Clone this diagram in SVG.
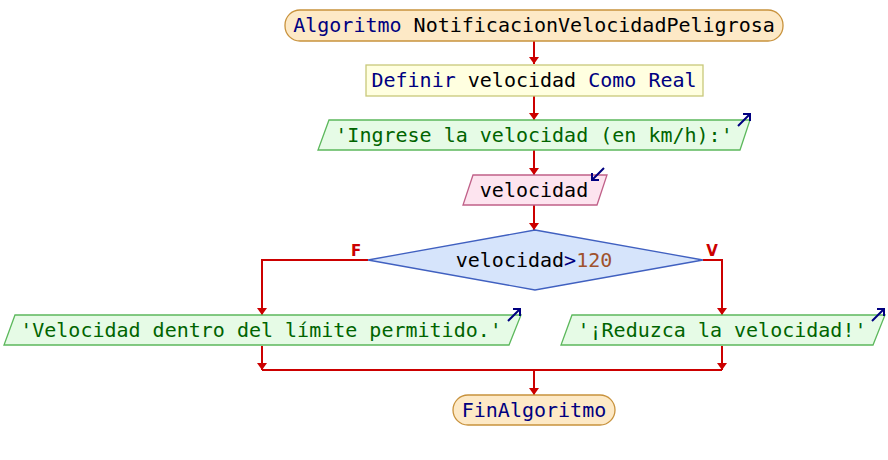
<svg xmlns="http://www.w3.org/2000/svg" width="888" height="460" viewBox="0 0 888 460">
<defs>
<style>
text{font-family:"DejaVu Sans Mono","Liberation Mono",monospace;font-size:20px;text-anchor:middle}
.kw{fill:#000080}.id{fill:#000000}.str{fill:#006400}.num{fill:#a0522d}
.term{fill:#fde9c6;stroke:#c8923c;stroke-width:1.3}
.def{fill:#ffffe0;stroke:#c8c87a;stroke-width:1.3}
.out{fill:#e6fbe6;stroke:#5cb85c;stroke-width:1.3}
.inp{fill:#fde4ef;stroke:#c06088;stroke-width:1.3}
.dec{fill:#d6e4fb;stroke:#4060c0;stroke-width:1.3}
.con{fill:none;stroke:#cc0000;stroke-width:2}
.ico{fill:none;stroke:#000080;stroke-width:2}
.lbl{font-family:"DejaVu Sans",sans-serif;font-size:15px;font-weight:bold;fill:#cc0000}
</style>
<marker id="ah" viewBox="0 0 7 10" refX="7" refY="5" markerWidth="7" markerHeight="10" markerUnits="userSpaceOnUse" orient="auto"><path d="M0,0 L7,5 L0,10 z" fill="#cc0000"/></marker>
</defs>
<g id="connectors">
<line class="con" x1="534" y1="41" x2="534" y2="64" marker-end="url(#ah)"/>
<line class="con" x1="534" y1="96" x2="534" y2="120" marker-end="url(#ah)"/>
<line class="con" x1="534" y1="150" x2="534" y2="175" marker-end="url(#ah)"/>
<line class="con" x1="534" y1="205" x2="534" y2="230" marker-end="url(#ah)"/>
<polyline class="con" points="368,260 262,260 262,315" marker-end="url(#ah)"/>
<polyline class="con" points="703,260 722,260 722,315" marker-end="url(#ah)"/>
<line class="con" x1="262" y1="346" x2="262" y2="370" marker-end="url(#ah)"/>
<line class="con" x1="722" y1="346" x2="722" y2="370" marker-end="url(#ah)"/>
<line class="con" x1="262" y1="370" x2="722" y2="370"/>
<line class="con" x1="534" y1="370" x2="534" y2="395" marker-end="url(#ah)"/>
<text class="lbl" x="356" y="256">F</text>
<text class="lbl" x="712" y="256">V</text>
</g>
<g id="start">
<rect class="term" x="285" y="10" width="498" height="31" rx="15" ry="15"/>
<text x="534" y="32"><tspan class="kw">Algoritmo</tspan><tspan class="id"> NotificacionVelocidadPeligrosa</tspan></text>
</g>
<g id="definir">
<rect class="def" x="366" y="65" width="337" height="31"/>
<text x="534" y="87"><tspan class="kw">Definir</tspan><tspan class="id"> velocidad </tspan><tspan class="kw">Como Real</tspan></text>
</g>
<g id="escribir1">
<polygon class="out" points="329,120 750,120 740,150 318,150"/>
<text class="str" x="534" y="142">'Ingrese la velocidad (en km/h):'</text>
<path class="ico" d="M738,126 L750,114 M743,114 L750,114 L750,121"/>
</g>
<g id="leer">
<polygon class="inp" points="473,175 607,175 597,205 463,205"/>
<text class="id" x="534" y="197">velocidad</text>
<path class="ico" d="M604,168 L592,180 M592,173 L592,180 L599,180"/>
</g>
<g id="si">
<polygon class="dec" points="535,230 703,260 535,290 368,260"/>
<text x="534" y="267"><tspan class="id">velocidad</tspan><tspan class="kw">&gt;</tspan><tspan class="num">120</tspan></text>
</g>
<g id="escribirF">
<polygon class="out" points="15,315 521,315 509,345 4,345"/>
<text class="str" x="261" y="337">'Velocidad dentro del límite permitido.'</text>
<path class="ico" d="M508,321 L520,309 M513,309 L520,309 L520,316"/>
</g>
<g id="escribirV">
<polygon class="out" points="572,315 885,315 873,345 561,345"/>
<text class="str" x="722" y="337">'¡Reduzca la velocidad!'</text>
<path class="ico" d="M872,321 L884,309 M877,309 L884,309 L884,316"/>
</g>
<g id="fin">
<rect class="term" x="453" y="395" width="162" height="30" rx="15" ry="15"/>
<text class="kw" x="534" y="417">FinAlgoritmo</text>
</g>
</svg>
